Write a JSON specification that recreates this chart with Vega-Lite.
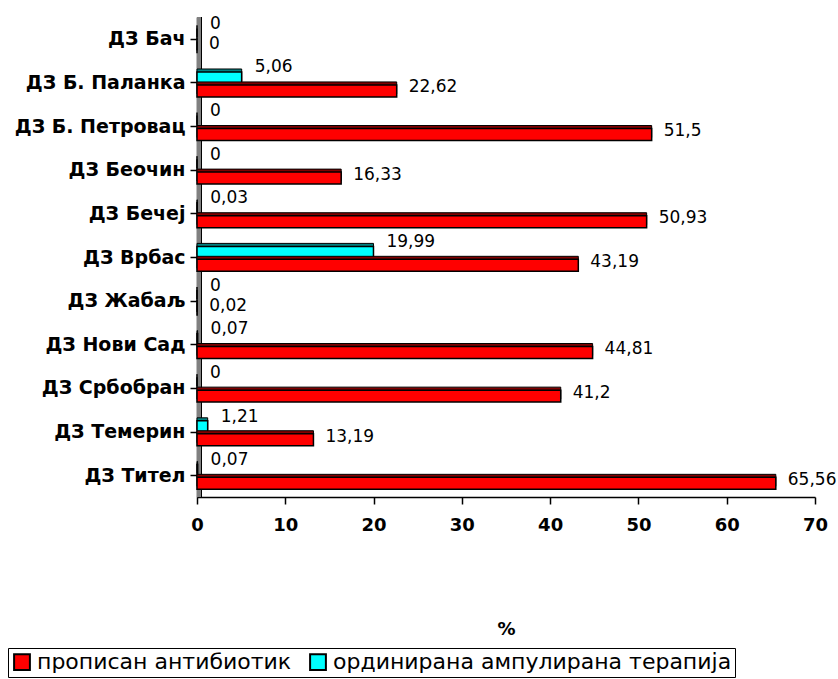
{
  "$schema": "https://vega.github.io/schema/vega-lite/v6.json",
  "autosize": {"type": "none"},
  "padding": {"left": 197, "top": 17, "right": 23, "bottom": 182},
  "width": 618,
  "height": 480,
  "background": "white",
  "config": {
    "font": "DejaVu Sans",
    "view": {"stroke": null}
  },
  "data": {
    "values": [
      {"ДЗ": "ДЗ Бач", "серија": "прописан антибиотик", "v": 0, "label": "0"},
      {"ДЗ": "ДЗ Бач", "серија": "ординирана ампулирана терапија", "v": 0, "label": "0"},
      {"ДЗ": "ДЗ Б. Паланка", "серија": "прописан антибиотик", "v": 22.62, "label": "22,62"},
      {"ДЗ": "ДЗ Б. Паланка", "серија": "ординирана ампулирана терапија", "v": 5.06, "label": "5,06"},
      {"ДЗ": "ДЗ Б. Петровац", "серија": "прописан антибиотик", "v": 51.5, "label": "51,5"},
      {"ДЗ": "ДЗ Б. Петровац", "серија": "ординирана ампулирана терапија", "v": 0, "label": "0"},
      {"ДЗ": "ДЗ Беочин", "серија": "прописан антибиотик", "v": 16.33, "label": "16,33"},
      {"ДЗ": "ДЗ Беочин", "серија": "ординирана ампулирана терапија", "v": 0, "label": "0"},
      {"ДЗ": "ДЗ Бечеј", "серија": "прописан антибиотик", "v": 50.93, "label": "50,93"},
      {"ДЗ": "ДЗ Бечеј", "серија": "ординирана ампулирана терапија", "v": 0.03, "label": "0,03"},
      {"ДЗ": "ДЗ Врбас", "серија": "прописан антибиотик", "v": 43.19, "label": "43,19"},
      {"ДЗ": "ДЗ Врбас", "серија": "ординирана ампулирана терапија", "v": 19.99, "label": "19,99"},
      {"ДЗ": "ДЗ Жабаљ", "серија": "прописан антибиотик", "v": 0.02, "label": "0,02"},
      {"ДЗ": "ДЗ Жабаљ", "серија": "ординирана ампулирана терапија", "v": 0, "label": "0"},
      {"ДЗ": "ДЗ Нови Сад", "серија": "прописан антибиотик", "v": 44.81, "label": "44,81"},
      {"ДЗ": "ДЗ Нови Сад", "серија": "ординирана ампулирана терапија", "v": 0.07, "label": "0,07"},
      {"ДЗ": "ДЗ Србобран", "серија": "прописан антибиотик", "v": 41.2, "label": "41,2"},
      {"ДЗ": "ДЗ Србобран", "серија": "ординирана ампулирана терапија", "v": 0, "label": "0"},
      {"ДЗ": "ДЗ Темерин", "серија": "прописан антибиотик", "v": 13.19, "label": "13,19"},
      {"ДЗ": "ДЗ Темерин", "серија": "ординирана ампулирана терапија", "v": 1.21, "label": "1,21"},
      {"ДЗ": "ДЗ Тител", "серија": "прописан антибиотик", "v": 65.56, "label": "65,56"},
      {"ДЗ": "ДЗ Тител", "серија": "ординирана ампулирана терапија", "v": 0.07, "label": "0,07"}
    ]
  },
  "encoding": {
    "x": {
      "field": "v", "type": "quantitative",
      "scale": {"domain": [0, 70], "nice": false},
      "axis": {
        "title": "%", "grid": false, "values": [0, 10, 20, 30, 40, 50, 60, 70], "labelFlush": false,
        "domainColor": "black", "domainWidth": 1.5, "tickColor": "black", "tickWidth": 1.5, "tickSize": 7,
        "labelFont": "DejaVu Sans", "labelFontWeight": "bold", "labelFontSize": 18, "labelColor": "black",
        "labelPadding": 12, "titleFont": "DejaVu Sans", "titleFontWeight": "bold", "titleFontSize": 18,
        "titleColor": "black", "titlePadding": 86
      }
    }
  },
  "resolve": {"scale": {"y": "independent"}},
  "layer": [
    {
      "mark": {"type": "rule", "color": "#808080", "strokeWidth": 4, "xOffset": 2},
      "encoding": {"x": {"datum": 0}}
    },
    {
      "mark": {"type": "rule", "color": "black", "strokeWidth": 1, "xOffset": 4.5},
      "encoding": {"x": {"datum": 0}}
    },
    {
      "transform": [{"filter": "datum['серија'] == 'ординирана ампулирана терапија'"}],
      "encoding": {
        "y": {
          "field": "ДЗ", "type": "nominal", "sort": null,
          "scale": {"paddingInner": 0.725, "paddingOuter": 0.367, "align": 0.356},
          "axis": null
        }
      },
      "layer": [
        {"mark": {"type": "bar", "yOffset": -3, "x2Offset": 3, "color": "#008080", "stroke": "black", "strokeWidth": 1}},
        {
          "mark": {"type": "bar", "stroke": "black", "strokeWidth": 1.5},
          "encoding": {
            "fill": {
              "field": "серија", "type": "nominal",
              "scale": {"domain": ["прописан антибиотик", "ординирана ампулирана терапија"], "range": ["#FF0000", "#00FFFF"]},
              "legend": {
                "title": null, "orient": "none", "legendX": -189, "legendY": 631, "direction": "horizontal",
                "symbolType": "square", "symbolSize": 250, "symbolStrokeColor": "black", "symbolStrokeWidth": 2,
                "labelFont": "DejaVu Sans", "labelFontSize": 22, "labelColor": "black", "labelLimit": 500,
                "columnPadding": 14, "symbolOffset": 0, "labelOffset": 4,
                "strokeColor": "black", "padding": 3, "fillColor": "white"
              }
            }
          }
        }
      ]
    },
    {
      "transform": [{"filter": "datum['серија'] == 'прописан антибиотик'"}],
      "encoding": {
        "y": {
          "field": "ДЗ", "type": "nominal", "sort": null,
          "scale": {"paddingInner": 0.725, "paddingOuter": 0.367, "align": 0.76},
          "axis": null
        }
      },
      "layer": [
        {"mark": {"type": "bar", "yOffset": -3, "x2Offset": 3, "color": "#800000", "stroke": "black", "strokeWidth": 1}},
        {
          "mark": {"type": "bar", "stroke": "black", "strokeWidth": 1.5},
          "encoding": {"fill": {"field": "серија", "type": "nominal"}}
        }
      ]
    },
    {
      "encoding": {
        "y": {
          "field": "ДЗ", "type": "nominal", "sort": null,
          "scale": {"paddingInner": 0, "paddingOuter": 0},
          "axis": {
            "orient": "left", "title": null, "bandPosition": 0, "domainColor": "black", "domainWidth": 1.5,
            "tickColor": "black", "tickWidth": 1.5, "tickSize": 7,
            "labelFont": "DejaVu Sans", "labelFontWeight": "bold", "labelFontSize": 19,
            "labelColor": "black", "labelPadding": 5, "labelLimit": 250
          }
        }
      },
      "layer": [
        {
          "transform": [{"filter": "datum['серија'] == 'ординирана ампулирана терапија'"}],
          "mark": {"type": "text", "align": "left", "baseline": "middle", "dx": 13, "dy": -15, "fontSize": 17, "color": "black"},
          "encoding": {"text": {"field": "label"}}
        },
        {
          "transform": [{"filter": "datum['серија'] == 'прописан антибиотик'"}],
          "mark": {"type": "text", "align": "left", "baseline": "middle", "dx": 12, "dy": 5, "fontSize": 17, "color": "black"},
          "encoding": {"text": {"field": "label"}}
        }
      ]
    }
  ]
}
